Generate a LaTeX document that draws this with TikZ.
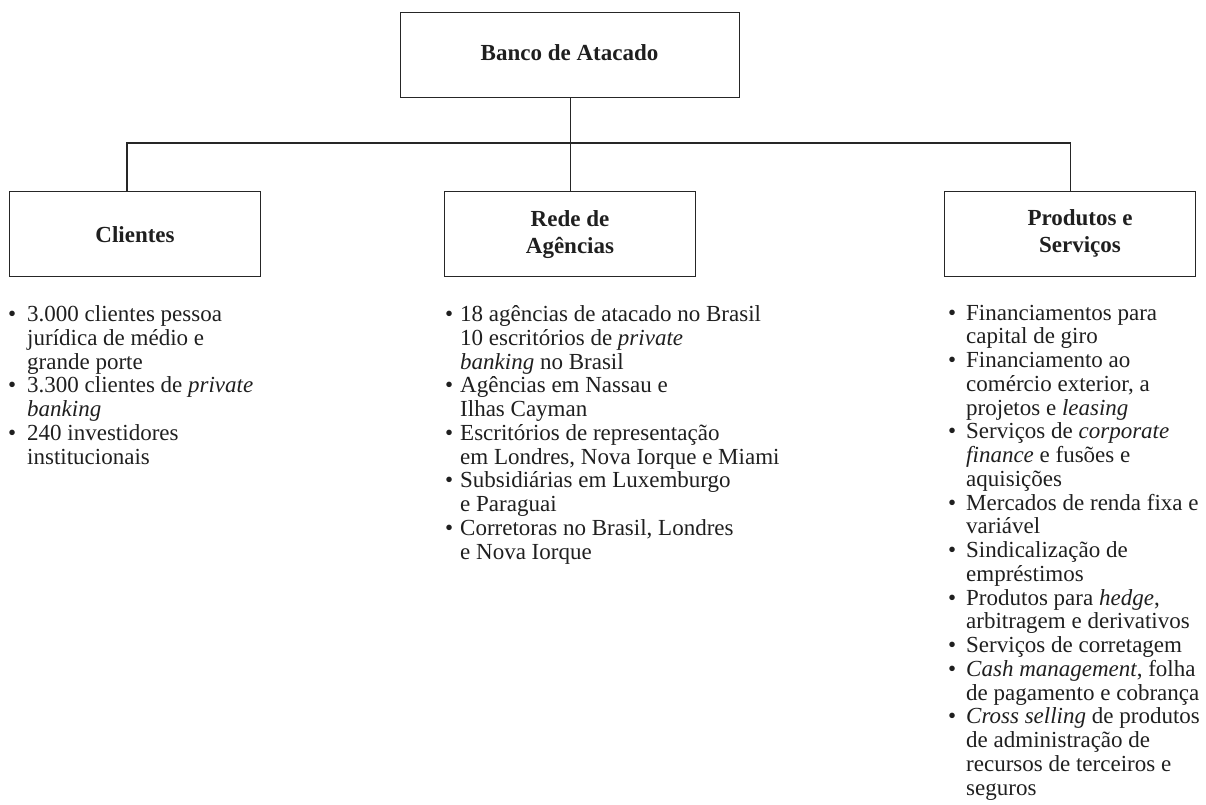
\documentclass[tikz,border=0pt]{standalone}
\usepackage{fontspec}
\setmainfont{Liberation Serif}
\newcommand\itm[1]{\llap{\makebox[#1][c]{\textbullet}}}
\begin{document}
\begin{tikzpicture}[x=1pt,y=-1pt,
  box/.style={draw=black!85,line width=1.1pt,rectangle,inner sep=0pt,anchor=north west,minimum height=85pt,minimum width=251pt},
  ttl/.style={inner sep=0pt,anchor=base,text=black!88,font=\fontsize{23}{27}\selectfont\bfseries},
  lst/.style={inner sep=0pt,anchor=base west,text=black!88,font=\fontsize{23}{23.75}\selectfont},
  conn/.style={draw=black!85,line width=1.1pt}]
\useasboundingbox (0,0) rectangle (1206,804);
% boxes
\node[box,minimum width=339pt] (top) at (400,12) {};
\node[box] (cl) at (9,191) {};
\node[box] (re) at (444,191) {};
\node[box] (pr) at (944,191) {};
% titles
\node[ttl] (t0) at (569.5,60) {Banco de Atacado};
\node[ttl] (t1) at (135,242) {Clientes};
\node[ttl] (t2) at (570,226) {\begin{tabular}[t]{@{}c@{}}Rede de\\[0pt]Agências\end{tabular}};
\node[ttl] (t3) at (1080,225) {\begin{tabular}[t]{@{}c@{}}Produtos e\\[0pt]Serviços\end{tabular}};
% connectors
\coordinate (bus) at (569.5,143);
\coordinate (clin) at (127,191);
\draw[conn] (top.south) -- (re.north);
\draw[conn] (clin) |- (bus) -| (pr.north);
% lists
\node[lst] (l1) at (27,321.5) {\begin{tabular}[t]{@{}l@{}}
\itm{30pt}3.000 clientes pessoa\\
jurídica de médio e\\
grande porte\\
\itm{30pt}3.300 clientes de \textit{private}\\
\textit{banking}\\
\itm{30pt}240 investidores\\
institucionais
\end{tabular}};
\node[lst] (l2) at (460,321.5) {\begin{tabular}[t]{@{}l@{}}
\itm{22pt}18 agências de atacado no Brasil\\
10 escritórios de \textit{private}\\
\textit{banking} no Brasil\\
\itm{22pt}Agências em Nassau e\\
Ilhas Cayman\\
\itm{22pt}Escritórios de representação\\
em Londres, Nova Iorque e Miami\\
\itm{22pt}Subsidiárias em Luxemburgo\\
e Paraguai\\
\itm{22pt}Corretoras no Brasil, Londres\\
e Nova Iorque
\end{tabular}};
\node[lst] (l3) at (966,320) {\begin{tabular}[t]{@{}l@{}}
\itm{28pt}Financiamentos para\\
capital de giro\\
\itm{28pt}Financiamento ao\\
comércio exterior, a\\
projetos e \textit{leasing}\\
\itm{28pt}Serviços de \textit{corporate}\\
\textit{finance} e fusões e\\
aquisições\\
\itm{28pt}Mercados de renda fixa e\\
variável\\
\itm{28pt}Sindicalização de\\
empréstimos\\
\itm{28pt}Produtos para \textit{hedge},\\
arbitragem e derivativos\\
\itm{28pt}Serviços de corretagem\\
\itm{28pt}\textit{Cash management}, folha\\
de pagamento e cobrança\\
\itm{28pt}\textit{Cross selling} de produtos\\
de administração de\\
recursos de terceiros e\\
seguros
\end{tabular}};
\end{tikzpicture}
\end{document}
